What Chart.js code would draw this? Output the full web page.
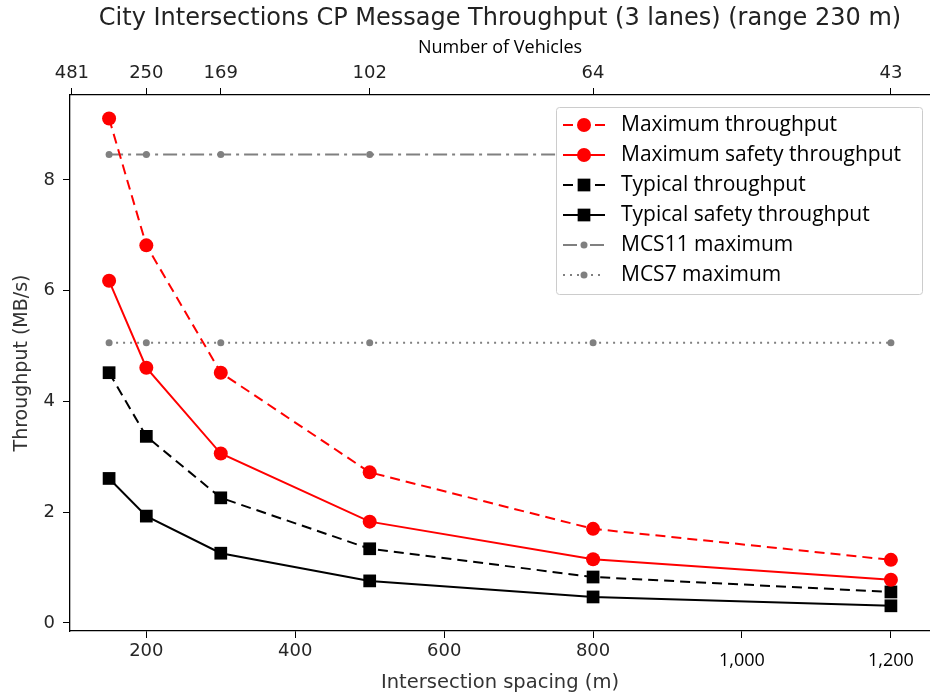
<!DOCTYPE html>
<html>
<head>
<meta charset="utf-8">
<script src="https://cdn.jsdelivr.net/npm/chart.js@4.4.1/dist/chart.umd.min.js"></script>
<style>
  html, body { margin: 0; padding: 0; background: #fff; }
</style>
</head>
<body>
<canvas id="myChart" width="930" height="695"></canvas>
<script>
// intersection spacing (m) and throughput series (MB/s)
const spacing = [150, 200, 300, 500, 800, 1200];
const maxThroughput = [9.11, 6.82, 4.52, 2.72, 1.70, 1.14];
const maxSafetyThroughput = [6.18, 4.61, 3.06, 1.83, 1.15, 0.78];
const typicalThroughput = [4.52, 3.37, 2.26, 1.34, 0.83, 0.56];
const typicalSafetyThroughput = [2.61, 1.93, 1.26, 0.76, 0.47, 0.31];
const mcs11Max = [8.46, 8.46, 8.46, 8.46, 8.46, 8.46];
const mcs7Max = [5.06, 5.06, 5.06, 5.06, 5.06, 5.06];

// axis ticks
const spacingTicks = [200, 400, 600, 800, 1000, 1200];
const vehicleTickPos = [100, 200, 300, 500, 800, 1200];
const vehicleLabels = ['481', '250', '169', '102', '64', '43'];
const yTicks = [0, 2, 4, 6, 8];

const X_MIN = 97.5, X_MAX = 1252.5;
const Y_MIN = -0.145, Y_MAX = 9.535;

function pts(values) {
    return spacing.map((x, i) => ({ x: x, y: values[i] }));
}

function fmt(v) {
    return v.toLocaleString('en-US');
}

function fixHeight(h) {
    return function (scale) { scale.height = h; };
}

// title above everything
const titlePlugin = {
    id: 'topTitle',
    afterDraw(chart) {
        const ctx = chart.ctx;
        ctx.save();
        ctx.font = '24px "DejaVu Sans"';
        ctx.fillStyle = '#222';
        ctx.textAlign = 'center';
        ctx.textBaseline = 'middle';
        ctx.fillText('City Intersections CP Message Throughput (3 lanes) (range 230 m)', 500, 19);
        ctx.restore();
    }
};

// legend box drawn inside the plot, upper right
const innerLegend = {
    id: 'innerLegend',
    afterDatasetsDraw(chart) {
        const ctx = chart.ctx;
        const box = { x: 556, y: 107, w: 366, h: 187 };
        ctx.save();
        ctx.beginPath();
        ctx.roundRect(box.x + 0.5, box.y + 0.5, box.w, box.h, 3);
        ctx.fillStyle = '#fff';
        ctx.fill();
        ctx.strokeStyle = '#cccccc';
        ctx.lineWidth = 1;
        ctx.stroke();

        chart.data.datasets.forEach(function (ds, i) {
            let y = 125 + i * 30;
            ctx.save();
            ctx.beginPath();
            ctx.setLineDash(ds.borderDash || []);
            ctx.strokeStyle = ds.borderColor;
            ctx.lineWidth = ds.borderWidth;
            ctx.moveTo(563, y);
            ctx.lineTo(605, y);
            ctx.stroke();
            ctx.setLineDash([]);
            ctx.fillStyle = ds.pointBackgroundColor;
            ctx.strokeStyle = ds.pointBackgroundColor;
            Chart.helpers.drawPoint(ctx, {
                pointStyle: ds.pointStyle,
                radius: ds.pointRadius,
                rotation: 0,
                borderWidth: 0
            }, 584, y);
            ctx.restore();

            ctx.font = '21px "Open Sans"';
            ctx.fillStyle = '#000';
            ctx.textAlign = 'left';
            ctx.textBaseline = 'middle';
            ctx.fillText(ds.label, 621, y);
        });
        ctx.restore();
    }
};

const ctx = document.getElementById('myChart').getContext('2d');

const chart = new Chart(ctx, {
    type: 'line',
    data: {
        datasets: [
            {
                label: 'Maximum throughput',
                data: pts(maxThroughput),
                borderColor: '#ff0000',
                borderWidth: 2,
                borderDash: [10, 6],
                pointStyle: 'circle',
                pointRadius: 7,
                pointBackgroundColor: '#ff0000',
                pointBorderWidth: 0
            },
            {
                label: 'Maximum safety throughput',
                data: pts(maxSafetyThroughput),
                borderColor: '#ff0000',
                borderWidth: 2,
                pointStyle: 'circle',
                pointRadius: 7,
                pointBackgroundColor: '#ff0000',
                pointBorderWidth: 0
            },
            {
                label: 'Typical throughput',
                data: pts(typicalThroughput),
                borderColor: '#000',
                borderWidth: 2,
                borderDash: [10, 6],
                pointStyle: 'rect',
                pointRadius: 9,
                pointBackgroundColor: '#000',
                pointBorderWidth: 0
            },
            {
                label: 'Typical safety throughput',
                data: pts(typicalSafetyThroughput),
                borderColor: '#000',
                borderWidth: 2,
                pointStyle: 'rect',
                pointRadius: 9,
                pointBackgroundColor: '#000',
                pointBorderWidth: 0
            },
            {
                label: 'MCS11 maximum',
                data: pts(mcs11Max),
                borderColor: '#808080',
                borderWidth: 2,
                borderDash: [14, 5, 3, 5],
                pointStyle: 'circle',
                pointRadius: 3.5,
                pointBackgroundColor: '#808080',
                pointBorderWidth: 0
            },
            {
                label: 'MCS7 maximum',
                data: pts(mcs7Max),
                borderColor: '#808080',
                borderWidth: 2,
                borderDash: [2, 5],
                pointStyle: 'circle',
                pointRadius: 3.5,
                pointBackgroundColor: '#808080',
                pointBorderWidth: 0
            }
        ]
    },
    options: {
        responsive: false,
        animation: false,
        layout: { padding: 0, autoPadding: false },
        plugins: {
            legend: { display: false },
            tooltip: { enabled: false },
            title: { display: false }
        },
        scales: {
            x: {
                type: 'linear',
                position: 'bottom',
                min: X_MIN,
                max: X_MAX,
                afterBuildTicks: function (scale) {
                    scale.ticks = spacingTicks.map(v => ({ value: v }));
                },
                afterFit: fixHeight(64),
                grid: { drawOnChartArea: false, drawTicks: true, tickLength: 7, tickColor: '#000' },
                border: { display: true, color: '#000', width: 1.3 },
                ticks: {
                    padding: 4,
                    maxRotation: 0,
                    autoSkip: false,
                    callback: v => fmt(v),
                    color: c => c.tick && c.tick.value >= 1000 ? '#000' : '#262626',
                    font: c => c.tick && c.tick.value >= 1000
                        ? { family: 'Open Sans', size: 18, lineHeight: 2.1 }
                        : { family: 'DejaVu Sans', size: 18, lineHeight: 1 }
                },
                title: {
                    display: true,
                    text: 'Intersection spacing (m)',
                    color: '#333',
                    font: { family: 'DejaVu Sans', size: 19.5, lineHeight: 1.2 },
                    padding: { top: 0, bottom: 0 }
                }
            },
            x2: {
                type: 'linear',
                position: 'top',
                min: X_MIN,
                max: X_MAX,
                afterBuildTicks: function (scale) {
                    scale.ticks = vehicleTickPos.map(v => ({ value: v }));
                },
                afterFit: fixHeight(95),
                grid: { drawOnChartArea: false, drawTicks: true, tickLength: 7, tickColor: '#000' },
                border: { display: true, color: '#000', width: 1.3 },
                ticks: {
                    padding: 6,
                    maxRotation: 0,
                    autoSkip: false,
                    color: '#222',
                    font: { family: 'DejaVu Sans', size: 18, lineHeight: 1 },
                    callback: function (v) {
                        let i = vehicleTickPos.indexOf(v);
                        return i >= 0 ? vehicleLabels[i] : '';
                    }
                },
                title: {
                    display: true,
                    text: 'Number of Vehicles',
                    color: '#000',
                    font: { family: 'Open Sans', size: 18, lineHeight: 1.2 },
                    padding: { top: 37, bottom: 0 }
                }
            },
            y: {
                type: 'linear',
                min: Y_MIN,
                max: Y_MAX,
                afterBuildTicks: function (scale) {
                    scale.ticks = yTicks.map(v => ({ value: v }));
                },
                afterFit: function (scale) { scale.width = 70; },
                grid: { drawOnChartArea: false, drawTicks: true, tickLength: 7, tickColor: '#000' },
                border: { display: true, color: '#000', width: 1.3 },
                ticks: {
                    padding: 8,
                    color: '#262626',
                    font: { family: 'DejaVu Sans', size: 18 }
                },
                title: {
                    display: true,
                    text: 'Throughput (MB/s)',
                    color: '#333',
                    font: { family: 'DejaVu Sans', size: 19, lineHeight: 1.2 },
                    padding: { top: 10.5, bottom: 0 }
                }
            }
        }
    },
    plugins: [titlePlugin, innerLegend]
});
</script>
</body>
</html>
